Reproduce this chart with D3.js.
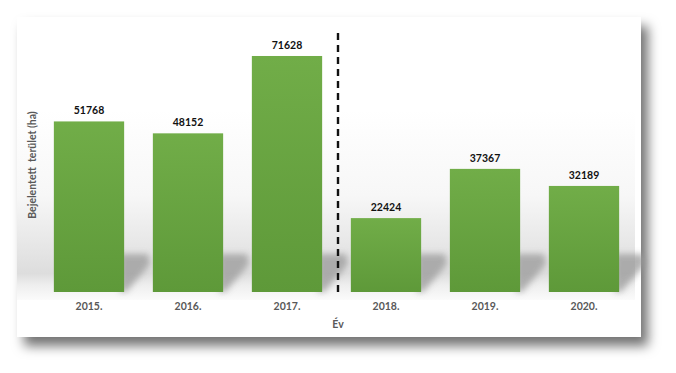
<!DOCTYPE html>
<html lang="hu">
<head>
<meta charset="utf-8">
<script src="https://d3js.org/d3.v7.min.js"></script>
<style>
  html, body { margin: 0; padding: 0; background: #ffffff; }
  svg { display: block; }
</style>
</head>
<body>
<div id="chart"></div>
<script>
'use strict';

// data
const years = ["2015.", "2016.", "2017.", "2018.", "2019.", "2020."];
const values = [51768, 48152, 71628, 22424, 37367, 32189];
const yMax = 80000;
const splitBefore = "2018.";   // dashed divider goes before this year

const width = 676, height = 373;
const card = { x: 17, y: 17, w: 624, h: 320 };
const plot = { left: 39.5, right: 633.5, top: 28.4, bottom: 292 };
const fontFamily = "Lato, 'Open Sans', sans-serif";

const svg = d3.select("#chart").append("svg")
  .attr("width", width)
  .attr("height", height);

const defs = svg.append("defs");

// card drop shadow
const ds = defs.append("filter").attr("id", "cardShadow")
  .attr("x", "-10%").attr("y", "-10%").attr("width", "125%").attr("height", "130%");
ds.append("feDropShadow")
  .attr("dx", 7).attr("dy", 9).attr("stdDeviation", 6)
  .attr("flood-color", "#000").attr("flood-opacity", 0.55);

// soft blur for bar shadows
defs.append("filter").attr("id", "blur")
  .attr("x", "-50%").attr("y", "-50%").attr("width", "200%").attr("height", "200%")
  .append("feGaussianBlur").attr("stdDeviation", 3);

// plot background: white top, grey band behind the bars' feet
const bg = defs.append("linearGradient").attr("id", "wall")
  .attr("x1", 0).attr("y1", 0).attr("x2", 0).attr("y2", 1);
[[0, "#ffffff"], [0.45, "#f7f7f7"], [0.72, "#e6e6e6"], [0.86, "#dddddd"], [0.92, "#eeeeee"], [1, "#fbfbfb"]]
  .forEach(([o, c]) => bg.append("stop").attr("offset", o).attr("stop-color", c));

const barGrad = defs.append("linearGradient").attr("id", "barGrad")
  .attr("x1", 0).attr("y1", 0).attr("x2", 0).attr("y2", 1);
barGrad.append("stop").attr("offset", 0).attr("stop-color", "#71ad48");
barGrad.append("stop").attr("offset", 1).attr("stop-color", "#5e9939");

// card
svg.append("rect")
  .attr("x", card.x).attr("y", card.y)
  .attr("width", card.w).attr("height", card.h)
  .attr("fill", "#ffffff")
  .attr("filter", "url(#cardShadow)");

svg.append("rect")
  .attr("x", card.x).attr("y", 110)
  .attr("width", card.w - 6).attr("height", plot.bottom - 110 + 8)
  .attr("fill", "url(#wall)");

// scales
const x = d3.scaleBand()
  .domain(years)
  .range([plot.left, plot.right])
  .paddingInner(0.29)
  .paddingOuter(0.145);

const y = d3.scaleLinear()
  .domain([0, yMax])
  .range([plot.bottom, plot.top]);

const rows = years.map((yr, i) => ({ year: yr, value: values[i] }));

// bar shadows falling back-right
svg.append("g").selectAll("path")
  .data(rows)
  .join("path")
  .attr("d", d => {
    const r = x(d.year) + x.bandwidth();
    const b = y(0);
    return `M${r - 4},${b - 38} L${r + 24},${b - 38} L${r + 26},${b - 28} L${r + 2},${b} L${r - 4},${b} Z`;
  })
  .attr("fill", "#9a9a9a")
  .attr("opacity", 0.75)
  .attr("filter", "url(#blur)");

// bars
svg.append("g").selectAll("rect")
  .data(rows)
  .join("rect")
  .attr("x", d => x(d.year))
  .attr("y", d => y(d.value))
  .attr("width", x.bandwidth())
  .attr("height", d => y(0) - y(d.value))
  .attr("fill", "url(#barGrad)");

// value labels
svg.append("g").selectAll("text")
  .data(rows)
  .join("text")
  .attr("x", d => x(d.year) + x.bandwidth() / 2)
  .attr("y", d => y(d.value) - 7)
  .attr("text-anchor", "middle")
  .style("font-family", fontFamily)
  .style("font-weight", "bold")
  .style("font-size", "10.5px")
  .style("fill", "#111111")
  .text(d => d.value);

// x axis labels
const xAxis = svg.append("g")
  .attr("transform", `translate(0,${plot.bottom})`)
  .call(d3.axisBottom(x).tickSize(0).tickPadding(11));
xAxis.select(".domain").remove();
xAxis.selectAll("text")
  .style("font-family", fontFamily)
  .style("font-weight", "bold")
  .style("font-size", "10.5px")
  .style("fill", "#595959");

// dashed divider
const divX = x(splitBefore) - x.step() * x.paddingInner() / 2 + 1.5;
svg.append("line")
  .attr("x1", divX).attr("x2", divX)
  .attr("y1", 33).attr("y2", plot.bottom + 1)
  .attr("stroke", "#111111")
  .attr("stroke-width", 2.4)
  .attr("stroke-dasharray", "7,5");

// axis titles
svg.append("text")
  .attr("x", divX)
  .attr("y", 328)
  .attr("text-anchor", "middle")
  .style("font-family", fontFamily)
  .style("font-weight", "bold")
  .style("font-size", "10.5px")
  .style("fill", "#595959")
  .text("Év");

svg.append("text")
  .attr("transform", "translate(36,165) rotate(-90)")
  .attr("text-anchor", "middle")
  .style("font-family", fontFamily)
  .style("font-weight", "bold")
  .style("font-size", "10.5px")
  .style("fill", "#595959")
  .style("white-space", "pre")
  .text("Bejelentett  terület (ha)");
</script>
</body>
</html>
